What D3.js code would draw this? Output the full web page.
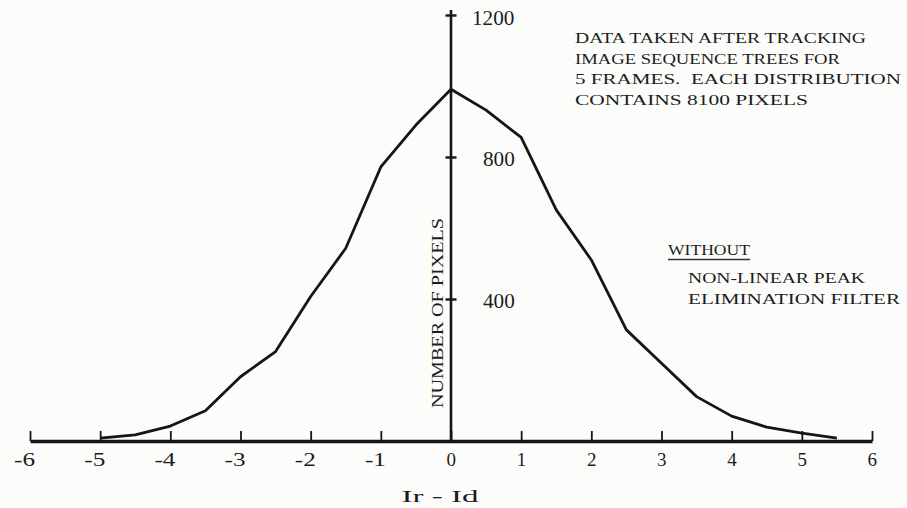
<!DOCTYPE html>
<html>
<head>
<meta charset="utf-8">
<script src="https://cdn.jsdelivr.net/npm/d3@7"></script>
<style>
  html, body { margin: 0; padding: 0; background: #fcfcfb; }
  svg { display: block; }
  text { font-family: "Liberation Serif", "DejaVu Serif", serif; fill: #1c1c1c; white-space: pre; }
</style>
</head>
<body>
<svg id="chart" width="907" height="508"></svg>
<script>
// Difference between reference and desired intensity (Ir - Id)
const diffValues = [-5, -4.5, -4, -3.5, -3, -2.5, -2, -1.5, -1, -0.5, 0, 0.5, 1, 1.5, 2, 2.5, 3, 3.5, 4, 4.5, 5, 5.5];
// Number of pixels at each difference
const pixelCounts = [8, 17, 42, 85, 181, 252, 407, 543, 772, 890, 991, 932, 855, 651, 510, 313, 219, 125, 70, 39, 22, 8];
// Axis ticks
const xTicks = [-6, -5, -4, -3, -2, -1, 0, 1, 2, 3, 4, 5, 6];
const yTicks = [400, 800, 1200];
// Annotation text
const noteLines = ["DATA TAKEN AFTER TRACKING", "IMAGE SEQUENCE TREES FOR", "5 FRAMES.  EACH DISTRIBUTION", "CONTAINS 8100 PIXELS"];
const noteWidths = [291, 265, 326, 233];
const legendLines = ["NON-LINEAR PEAK", "ELIMINATION FILTER"];
const legendWidths = [177, 212];

const svg = d3.select("#chart");
const x = d3.scaleLinear().domain([-6, 6]).range([30, 872]);
const y = d3.scaleLinear().domain([0, 1200]).range([441, 15]);
const ink = "#151515";

// Horizontal axis with upward ticks; digits centred on the tick, sign to the left
const xAxis = d3.axisBottom(x).tickValues(xTicks).tickSizeInner(-10).tickSizeOuter(0)
  .tickFormat(d => d < 0 ? "-" + Math.abs(d) : String(d));
const gx = svg.append("g").attr("transform", `translate(0,${y(0)})`).call(xAxis);
gx.attr("font-family", null).attr("font-size", null);
gx.select(".domain").attr("stroke", ink).attr("stroke-width", 3.4);
gx.selectAll(".tick line").attr("stroke", ink).attr("stroke-width", 1.8);
gx.selectAll(".tick text").attr("y", 25).attr("dy", 0).attr("x", 4.6)
  .attr("text-anchor", "end").attr("font-size", 18.5).style("fill", "#1c1c1c")
  .attr("textLength", d => d < 0 ? 21 : 9.5).attr("lengthAdjust", "spacingAndGlyphs");

// Vertical axis through zero with cross ticks
const yAxis = d3.axisLeft(y).tickValues(yTicks).tickSizeInner(0).tickSizeOuter(0).tickFormat("");
const gy = svg.append("g").attr("transform", `translate(${x(0)},0)`).call(yAxis);
gy.attr("font-family", null).attr("font-size", null);
gy.select(".domain").remove();
gy.append("line").attr("x1", 0).attr("x2", 0).attr("y1", y(1200) - 5).attr("y2", y(0))
  .attr("stroke", ink).attr("stroke-width", 2.6);
gy.selectAll(".tick").append("line").attr("x1", -5.5).attr("x2", 5.5)
  .attr("stroke", ink).attr("stroke-width", 2.4);
gy.selectAll(".tick").append("text")
  .attr("x", d => d === 1200 ? 21 : 32).attr("y", d => d === 1200 ? 2 : 1).attr("dy", "0.35em")
  .attr("text-anchor", "start").attr("font-size", 20)
  .attr("textLength", d => String(d).length * 10.6).attr("lengthAdjust", "spacingAndGlyphs")
  .text(d => d);

// Y axis title
svg.append("text")
  .attr("transform", `translate(${x(0) - 8},${y(400) + 14}) rotate(-90)`)
  .attr("text-anchor", "middle").attr("font-size", 16.5)
  .attr("textLength", 190).attr("lengthAdjust", "spacingAndGlyphs")
  .text("NUMBER OF PIXELS");

// X axis title
svg.append("text").attr("x", 440).attr("y", 502).attr("text-anchor", "middle")
  .attr("font-size", 17).attr("textLength", 77).attr("lengthAdjust", "spacingAndGlyphs")
  .text("Ir - Id");

// Distribution curve
const line = d3.line().x((d, i) => x(diffValues[i])).y(d => y(d));
svg.append("path").datum(pixelCounts).attr("d", line)
  .attr("fill", "none").attr("stroke", ink).attr("stroke-width", 2.8)
  .attr("stroke-linejoin", "round");

// Annotation block
svg.append("g").selectAll("text").data(noteLines).join("text")
  .attr("x", 575).attr("y", (d, i) => 43 + i * 20.7)
  .attr("font-size", 15).attr("textLength", (d, i) => noteWidths[i])
  .attr("lengthAdjust", "spacingAndGlyphs").text(d => d);

// Legend note
svg.append("text").attr("x", 668).attr("y", 255).attr("font-size", 15)
  .attr("textLength", 82).attr("lengthAdjust", "spacingAndGlyphs").text("WITHOUT");
svg.append("line").attr("x1", 668).attr("x2", 750).attr("y1", 259.5).attr("y2", 259.5)
  .attr("stroke", "#333").attr("stroke-width", 1.4);
svg.append("g").selectAll("text").data(legendLines).join("text")
  .attr("x", 688).attr("y", (d, i) => 283 + i * 20.5)
  .attr("font-size", 15).attr("textLength", (d, i) => legendWidths[i])
  .attr("lengthAdjust", "spacingAndGlyphs").text(d => d);
</script>
</body>
</html>
